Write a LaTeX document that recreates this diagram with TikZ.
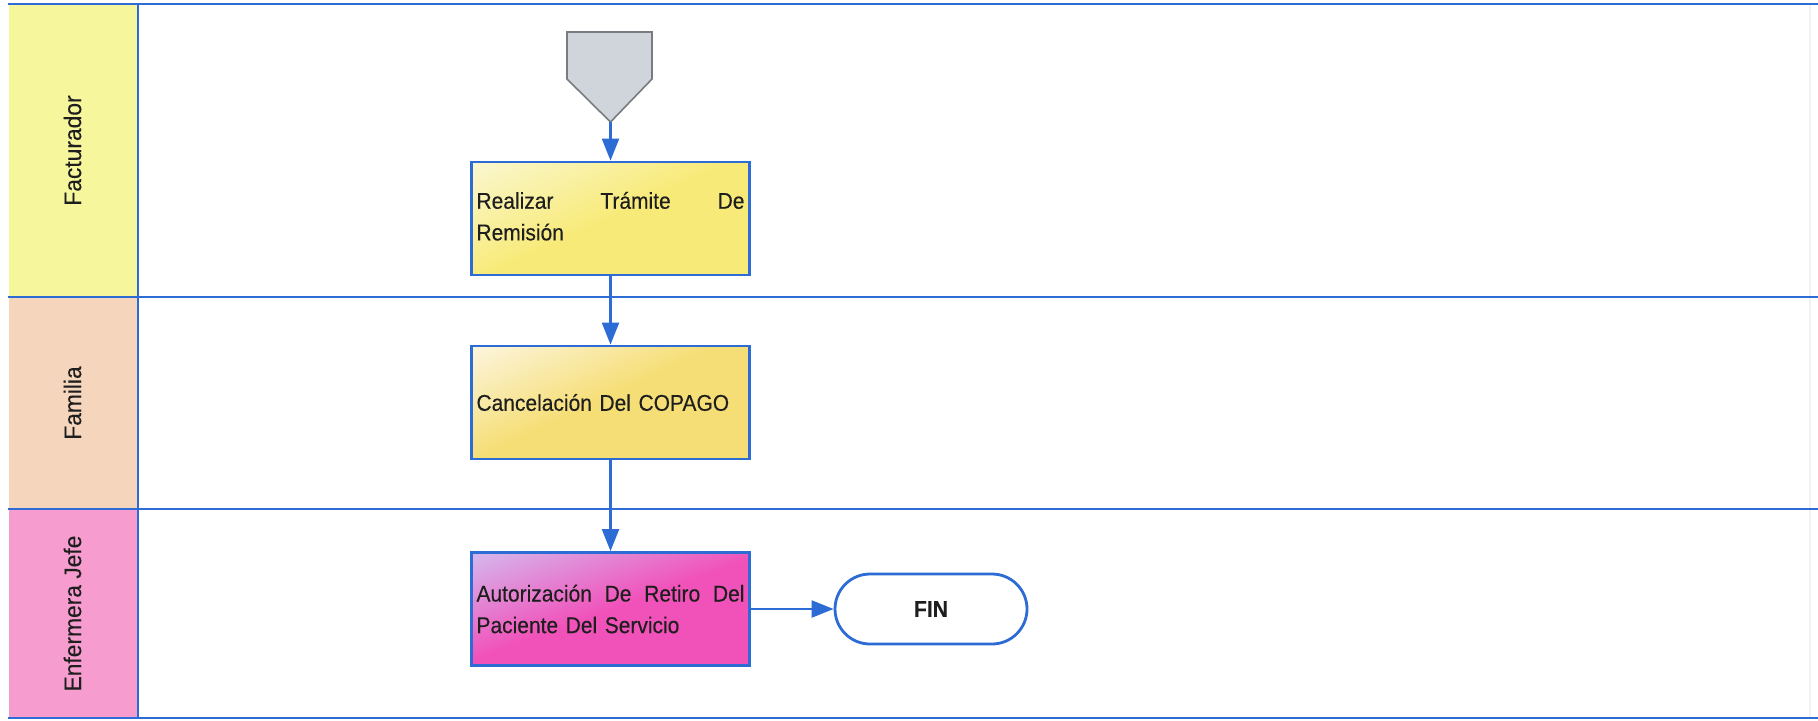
\documentclass[tikz,border=0pt]{standalone}
\usepackage{fontspec}
\setmainfont{Liberation Sans}
\newfontfamily\boxfont[FakeStretch=0.92,FakeBold=0.25]{Liberation Sans}
\newfontfamily\lanefont[FakeStretch=0.95,FakeBold=0.2]{Liberation Sans}
\usetikzlibrary{arrows.meta}

\definecolor{flowblue}{RGB}{44,108,212}
\definecolor{lanefac}{RGB}{246,246,156}
\definecolor{lanefam}{RGB}{245,214,188}
\definecolor{laneenf}{RGB}{246,156,206}
\definecolor{startfill}{RGB}{208,213,220}
\definecolor{startdraw}{RGB}{120,124,128}
\definecolor{ymain}{RGB}{248,234,120}
\definecolor{ylight}{RGB}{250,247,205}
\definecolor{gmain}{RGB}{246,222,118}
\definecolor{glight}{RGB}{252,246,225}
\definecolor{pmain}{RGB}{241,82,186}
\definecolor{plight}{RGB}{214,178,234}
\definecolor{inktext}{RGB}{30,30,30}

% soft highlight coming from the upper left corner of each activity
\pgfdeclareverticalshading{yellowshade}{100bp}{color(0bp)=(ymain); color(50bp)=(ymain); color(82bp)=(ylight); color(100bp)=(ylight)}
\pgfdeclareverticalshading{goldshade}{100bp}{color(0bp)=(gmain); color(52bp)=(gmain); color(84bp)=(glight); color(100bp)=(glight)}
\pgfdeclareverticalshading{pinkshade}{100bp}{color(0bp)=(pmain); color(50bp)=(pmain); color(80bp)=(plight); color(100bp)=(plight)}

\tikzset{
  laneline/.style={draw=flowblue, line width=1.1pt},
  lanelabel/.style={rotate=90, font=\lanefont\fontsize{12}{14}\selectfont, text=inktext},
  taskbox/.style={draw=flowblue, line width=1.4pt, rectangle,
    minimum width=139pt, minimum height=56.5pt, text width=134pt,
    inner xsep=2.5pt, inner ysep=0pt, align=left,
    font=\boxfont\fontsize{11.4}{15.8}\selectfont, text=inktext},
  yellowtask/.style={taskbox, shading=yellowshade, shading angle=25},
  goldtask/.style={taskbox, shading=goldshade, shading angle=25},
  pinktask/.style={taskbox, shading=pinkshade, shading angle=20},
  endbox/.style={draw=flowblue, line width=1.4pt, fill=white,
    minimum width=96pt, minimum height=35pt, rounded corners=17.5pt,
    font=\boxfont\fontsize{11.5}{13}\selectfont\bfseries, text=inktext},
  flow/.style={draw=flowblue, line width=1.1pt,
    -{Triangle[length=11pt,width=8.5pt]}},
}

\begin{document}
\begin{tikzpicture}[x=0.5pt, y=-0.5pt]
\useasboundingbox (0,0) rectangle (1818,720);
\fill[white] (0,0) rectangle (1818,720);

% lane header cells
\fill[lanefac] (9,4) rectangle (138,297);
\fill[lanefam] (9,297) rectangle (138,509);
\fill[laneenf] (9,509) rectangle (138,718);

% faint right margin line
\draw[black!5, line width=0.6pt] (1810,4) -- (1810,718);

% swimlane borders
\draw[laneline] (8,4) -- (1818,4);
\draw[laneline] (8,297) -- (1818,297);
\draw[laneline] (8,509) -- (1818,509);
\draw[laneline] (8,718) -- (1818,718);
\draw[laneline] (138,4) -- (138,718);

% lane names
\node[lanelabel] (lfac) at (72.5,150.5) {Facturador};
\node[lanelabel] (lfam) at (72.5,403) {Familia};
\node[lanelabel] (lenf) at (72.5,613.5) {Enfermera Jefe};

% off-page start connector
\draw[draw=startdraw, fill=startfill, line width=0.8pt]
  (567,32) -- (652,32) -- (652,79) -- (610.5,122) -- (567,79) -- cycle;
\coordinate (start) at (610.5,122);

% activities
\node[yellowtask] (b1) at (610.5,218.5)
  {Realizar\hfill Trámite\hfill De\\Remisión\vphantom{p}\\[-4pt]};
\node[goldtask] (b2) at (610.5,402.5)
  {Cancelación Del COPAGO};
\node[pinktask] (b3) at (610.5,609)
  {Autorización\hfill De\hfill Retiro\hfill Del\\Paciente Del Servicio};
\node[endbox] (fin) at (931,609) {FIN};

% flow connectors
\draw[flow] (start) -- (b1);
\draw[flow] (b1) -- (b2);
\draw[flow] (b2) -- (b3);
\draw[flow] (b3) -- (fin);
\end{tikzpicture}
\end{document}
